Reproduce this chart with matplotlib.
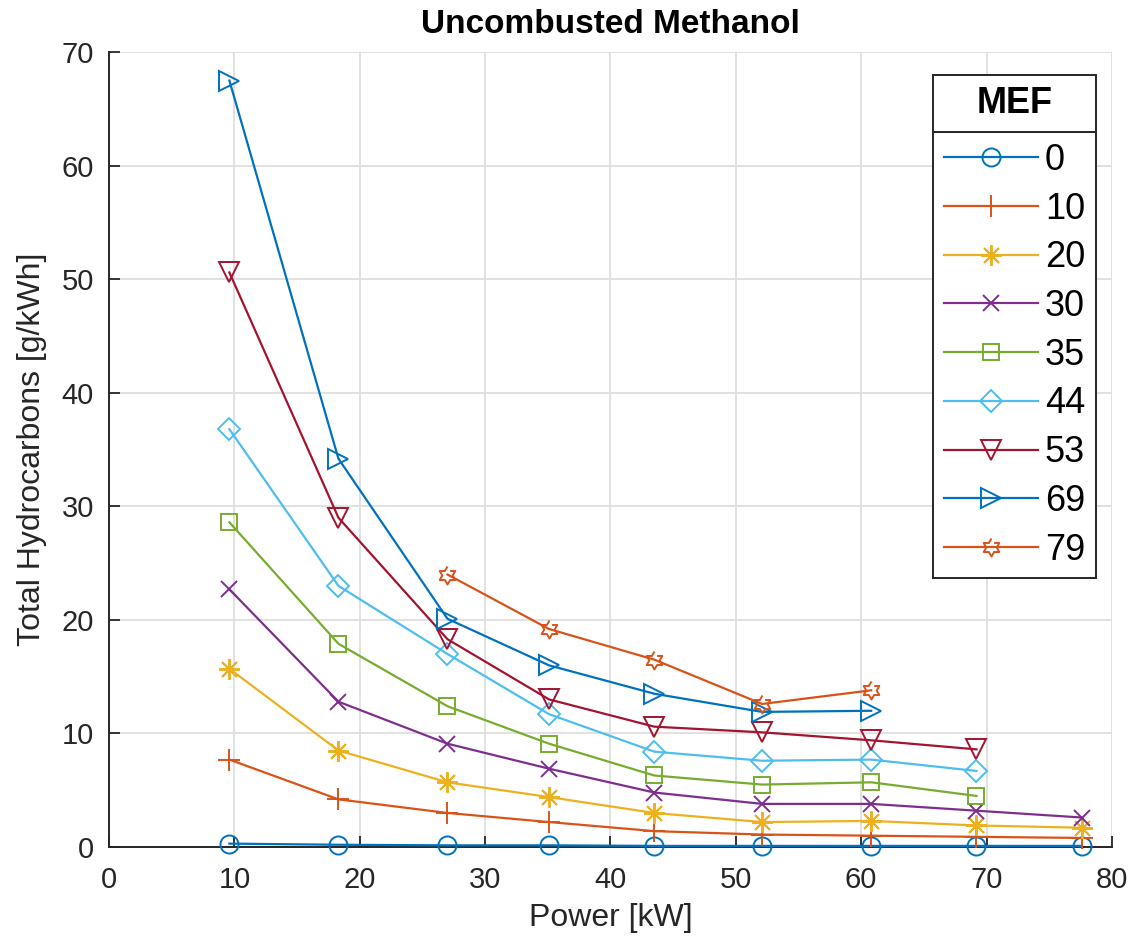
import numpy as np
import matplotlib
matplotlib.use('Agg')
import matplotlib.pyplot as plt
from matplotlib.patches import Rectangle

plt.rcParams['font.family'] = ['Liberation Sans', 'DejaVu Sans']

# Engine power points [kW]
power = [9.6, 18.3, 27.0, 35.1, 43.5, 52.1, 60.8, 69.2, 77.6]

# Total hydrocarbons [g/kWh] for each methanol energy fraction (MEF)
mef_0 = [0.3, 0.2, 0.15, 0.15, 0.1, 0.1, 0.1, 0.1, 0.1]
mef_10 = [7.7, 4.2, 3.0, 2.2, 1.4, 1.1, 1.0, 0.9, 0.8]
mef_20 = [15.7, 8.5, 5.7, 4.4, 3.0, 2.2, 2.3, 1.9, 1.7]
mef_30 = [22.7, 12.8, 9.1, 6.9, 4.8, 3.8, 3.8, 3.2, 2.6]
mef_35 = [28.6, 17.9, 12.4, 9.1, 6.3, 5.5, 5.7, 4.5]
mef_44 = [36.8, 23.0, 17.0, 11.7, 8.4, 7.6, 7.7, 6.7]
mef_53 = [50.6, 29.0, 18.3, 13.0, 10.6, 10.1, 9.4, 8.6]
mef_69 = [67.5, 34.2, 20.1, 16.0, 13.5, 11.9, 12.0]
mef_79 = [24.0, 19.2, 16.5, 12.6, 13.8]
power_79 = power[2:7]

mef_labels = ['0', '10', '20', '30', '35', '44', '53', '69', '79']

# six-pointed star marker
ang = np.deg2rad(90 + 30 * np.arange(12))
rad = np.where(np.arange(12) % 2 == 0, 1.0, 1 / np.sqrt(3))
hexagram = list(zip(rad * np.cos(ang), rad * np.sin(ang)))

series = [
    (power, mef_0, '#0072BD', 'o', 13),
    (power, mef_10, '#D95319', '+', 16),
    (power, mef_20, '#EDB120', (8, 2, 0), 15),
    (power, mef_30, '#7E2F8E', 'x', 11),
    (power[:8], mef_35, '#77AC30', 's', 11),
    (power[:8], mef_44, '#4DBEEE', 'D', 11),
    (power[:8], mef_53, '#A2142F', 'v', 14),
    (power[:7], mef_69, '#0072BD', '>', 14),
    (power_79, mef_79, '#D95319', hexagram, 13),
]

fig = plt.figure(figsize=(11.37, 9.48), dpi=100)
ax = fig.add_axes([0.0959, 0.1065, 0.882, 0.8385])

for (x, y, c, m, ms), lab in zip(series, mef_labels):
    ax.plot(x, y, color=c, marker=m, markersize=ms, markerfacecolor='none',
            markeredgecolor=c, markeredgewidth=1.4, linewidth=1.6,
            label=lab, clip_on=False, zorder=3)

ax.set_xlim(0, 80)
ax.set_ylim(0, 70)
ax.set_xticks(range(0, 81, 10))
ax.set_yticks(range(0, 71, 10))
ax.grid(True, color='#dedede', linewidth=1.3)
ax.set_axisbelow(True)
for s in ['top', 'right']:
    ax.spines[s].set_visible(False)
for s in ['left', 'bottom']:
    ax.spines[s].set_color('#262626')
    ax.spines[s].set_linewidth(1.4)
ax.tick_params(direction='in', length=8, width=1.3, labelsize=21,
               colors='#262626')
ax.tick_params(axis='x', pad=14)
ax.tick_params(axis='y', pad=11)

ax.set_title('Uncombusted Methanol', fontsize=24, fontweight='bold', pad=14)
ax.set_xlabel('Power [kW]', fontsize=23, color='#262626', labelpad=6)
ax.set_ylabel('Total Hydrocarbons [g/kWh]', fontsize=23, color='#262626',
              labelpad=10)

# legend box with a separate header cell for the title
leg = ax.legend(loc='upper left', bbox_to_anchor=(933 / 1137, 1 - 132 / 948),
                bbox_transform=fig.transFigure, fontsize=26, fancybox=False,
                framealpha=1, edgecolor='#262626', handlelength=2.6,
                handletextpad=0.2, labelspacing=0.38, borderpad=0.3,
                borderaxespad=0)
leg.get_frame().set_linewidth(1.4)

fig.canvas.draw()
bb = leg.get_window_extent().transformed(fig.transFigure.inverted())
head_h = 57 / 948
fig.patches.append(Rectangle((bb.x0, bb.y1), bb.width, head_h,
                             transform=fig.transFigure, facecolor='white',
                             edgecolor='#262626', linewidth=1.4))
fig.text(bb.x0 + bb.width / 2, bb.y1 + head_h / 2, 'MEF', fontsize=26,
         fontweight='bold', ha='center', va='center')

fig.savefig('out.png', dpi=100)
